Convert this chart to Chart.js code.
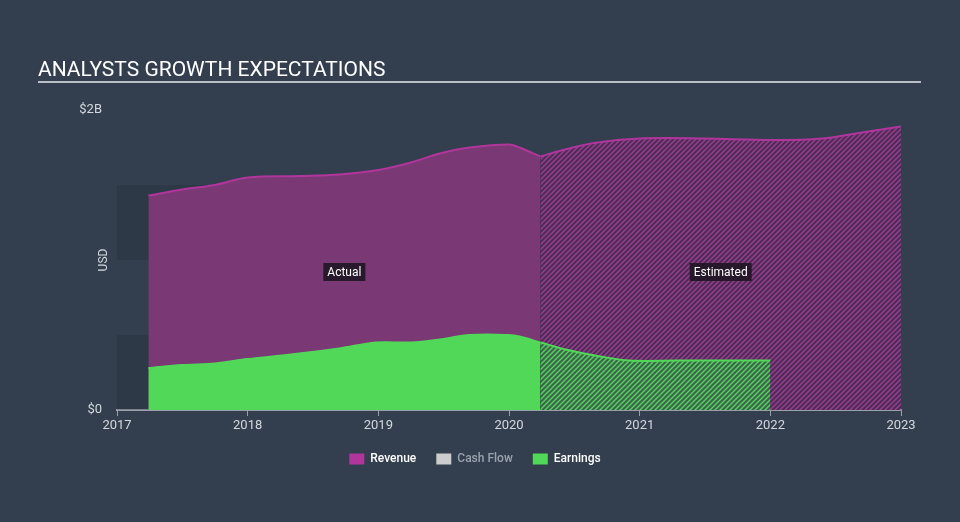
<!DOCTYPE html>
<html>
<head>
<meta charset="utf-8">
<script src="https://cdn.jsdelivr.net/npm/chart.js@4.4.1/dist/chart.umd.min.js"></script>
<style>
  html, body { margin: 0; padding: 0; background: #333f4f; }
  #wrap { width: 960px; height: 522px; position: relative; }
</style>
</head>
<body>
<div id="wrap"><canvas id="growthChart" width="960" height="522"></canvas></div>
<script>
// values in billions USD, x in fractional years
const revenueActualX = [2017.24, 2017.5, 2017.75, 2018.0, 2018.4, 2018.7, 2019.0, 2019.25, 2019.47, 2019.7, 2020.0, 2020.08, 2020.24];
const revenueActualY = [1.43, 1.47, 1.50, 1.55, 1.56, 1.57, 1.60, 1.65, 1.71, 1.75, 1.77, 1.75, 1.69];
const revenueEstX = [2020.24, 2020.4, 2020.65, 2021.0, 2021.5, 2022.0, 2022.4, 2022.7, 2023.0];
const revenueEstY = [1.69, 1.73, 1.78, 1.81, 1.81, 1.80, 1.81, 1.85, 1.89];
const earningsActualX = [2017.24, 2017.5, 2017.75, 2018.0, 2018.33, 2018.7, 2018.98, 2019.25, 2019.47, 2019.7, 2020.0, 2020.08, 2020.24];
const earningsActualY = [0.28, 0.30, 0.31, 0.34, 0.37, 0.41, 0.45, 0.45, 0.47, 0.50, 0.50, 0.49, 0.45];
const earningsEstX = [2020.24, 2020.45, 2020.68, 2020.92, 2021.3, 2022.0];
const earningsEstY = [0.45, 0.40, 0.36, 0.33, 0.33, 0.33];
const yearTicks = [2017, 2018, 2019, 2020, 2021, 2022, 2023];
const legendLabels = ['Revenue', 'Cash Flow', 'Earnings'];

const toPoints = (xs, ys) => xs.map((x, i) => ({ x: x, y: ys[i] }));

function hatch(bg, line) {
  const c = document.createElement('canvas');
  c.width = 5; c.height = 5;
  const g = c.getContext('2d');
  g.fillStyle = bg;
  g.fillRect(0, 0, 5, 5);
  g.strokeStyle = line;
  g.lineWidth = 1.4;
  g.beginPath();
  g.moveTo(-1, 6); g.lineTo(6, -1);
  g.moveTo(-1, 1); g.lineTo(1, -1);
  g.moveTo(4, 6); g.lineTo(6, 4);
  g.stroke();
  return g.createPattern(c, 'repeat');
}

const ctx = document.getElementById('growthChart').getContext('2d');
const revHatch = hatch('#4a2f55', '#a13a94');
const earnHatch = hatch('#3f6350', '#52d858');

// title + background bands + Actual/Estimated labels
const decor = {
  id: 'decor',
  beforeDatasetsDraw(chart) {
    const { ctx, chartArea, scales } = chart;
    const y = scales.y;
    ctx.save();
    ctx.fillStyle = 'rgba(30,38,50,0.22)';
    [[0, 0.5], [1, 1.5]].forEach(b => {
      ctx.fillRect(chartArea.left, y.getPixelForValue(b[1]), chartArea.width, y.getPixelForValue(b[0]) - y.getPixelForValue(b[1]));
    });
    ctx.restore();
  },
  afterDraw(chart) {
    const { ctx, scales, chartArea } = chart;
    ctx.save();
    ctx.font = '21px Roboto';
    ctx.fillStyle = '#ffffff';
    ctx.textBaseline = 'alphabetic';
    ctx.fillText('ANALYSTS GROWTH EXPECTATIONS', 38, 76);
    ctx.fillStyle = '#b9bec5';
    ctx.fillRect(38, 81, 883, 2);

    // axis title
    ctx.save();
    ctx.translate(104, (chartArea.top + chartArea.bottom) / 2);
    ctx.rotate(-Math.PI / 2);
    ctx.font = '12px Roboto';
    ctx.fillStyle = '#d4d8dd';
    ctx.textAlign = 'center';
    ctx.textBaseline = 'middle';
    ctx.fillText('USD', 0, 0);
    ctx.restore();

    ctx.font = '12px Roboto';
    ctx.textAlign = 'center';
    ctx.textBaseline = 'middle';
    [['Actual', (2017.24 + 2020.24) / 2], ['Estimated', (2020.24 + 2023.0) / 2]].forEach(l => {
      const px = scales.x.getPixelForValue(l[1]);
      const py = scales.y.getPixelForValue(0.92);
      const w = ctx.measureText(l[0]).width + 8;
      ctx.fillStyle = 'rgba(28,22,34,0.88)';
      ctx.fillRect(px - w / 2, py - 9, w, 18);
      ctx.fillStyle = '#ffffff';
      ctx.fillText(l[0], px, py + 1);
    });
    ctx.restore();
  }
};

const legendColors = ['#b0369b', '#cccccc', '#52d858'];
const legendText = ['#ffffff', '#9aa3ad', '#ffffff'];

new Chart(ctx, {
  type: 'line',
  data: {
    datasets: [
      { label: 'Revenue', order: 2, data: toPoints(revenueActualX, revenueActualY), borderColor: '#b0369b', backgroundColor: '#7a3874', fill: 'origin', borderWidth: 2, tension: 0.35, pointRadius: 0 },
      { label: 'Revenue est', order: 2, data: toPoints(revenueEstX, revenueEstY), borderColor: '#b0369b', backgroundColor: revHatch, fill: 'origin', borderWidth: 2, tension: 0.35, pointRadius: 0 },
      { label: 'Earnings', order: 0, data: toPoints(earningsActualX, earningsActualY), borderColor: '#52d858', backgroundColor: '#52d858', fill: 'origin', borderWidth: 2, tension: 0.35, pointRadius: 0 },
      { label: 'Earnings est', order: 0, data: toPoints(earningsEstX, earningsEstY), borderColor: '#52d858', backgroundColor: earnHatch, fill: 'origin', borderWidth: 2, tension: 0.35, pointRadius: 0 }
    ]
  },
  options: {
    responsive: false,
    animation: false,
    layout: { padding: { top: 110, right: 59, left: 49, bottom: 47 } },
    scales: {
      x: {
        type: 'linear',
        min: 2017,
        max: 2023,
        afterBuildTicks: s => { s.ticks = yearTicks.map(v => ({ value: v })); },
        afterFit: s => { s.height = 23; },
        grid: { display: true, drawOnChartArea: false, drawTicks: true, tickLength: 6, color: '#9aa0a8', lineWidth: 1 },
        border: { display: true, color: '#9aa0a8', width: 2 },
        ticks: { color: '#d4d8dd', font: { family: 'Roboto', size: 13 }, padding: 2, maxRotation: 0, callback: v => String(v) }
      },
      y: {
        min: 0,
        max: 2,
        afterBuildTicks: s => { s.ticks = [{ value: 0 }, { value: 2 }]; },
        afterFit: s => { s.width = 68; },
        grid: { display: false },
        border: { display: false },
        ticks: { color: '#d4d8dd', font: { family: 'Roboto', size: 13 }, padding: 7, callback: v => '$' + v + (v ? 'B' : '') }
      }
    },
    plugins: {
      tooltip: { enabled: false },
      legend: {
        position: 'bottom',
        labels: {
          boxWidth: 15,
          boxHeight: 11,
          padding: 20,
          font: { family: 'Roboto', size: 12, weight: '500' },
          generateLabels: () => legendLabels.map((t, i) => ({
            text: t, fillStyle: legendColors[i], strokeStyle: legendColors[i], lineWidth: 0, fontColor: legendText[i], hidden: false, datasetIndex: i
          }))
        }
      }
    }
  },
  plugins: [decor]
});
</script>
</body>
</html>
